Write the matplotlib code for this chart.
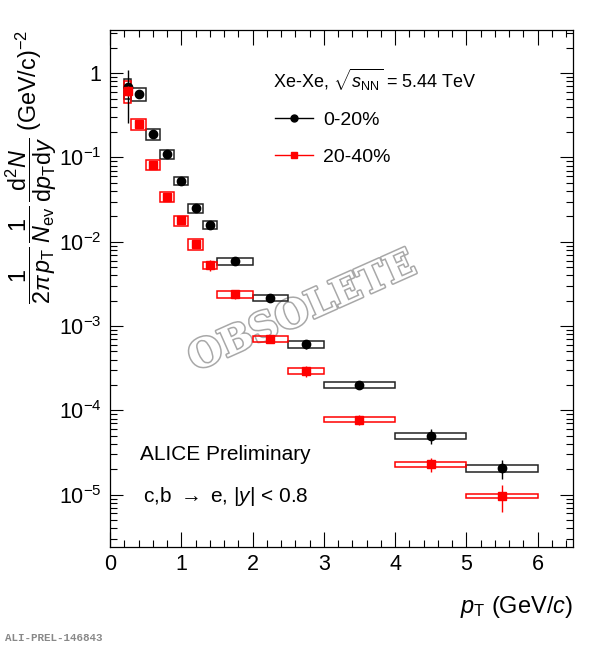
import numpy as np
import matplotlib
matplotlib.use("Agg")
import matplotlib.pyplot as plt
from matplotlib.lines import Line2D
from matplotlib import patheffects
from matplotlib.ticker import FixedLocator, FixedFormatter, LogLocator, MultipleLocator, NullFormatter

plt.rcParams['font.family'] = ['Liberation Sans', 'DejaVu Sans']
plt.rcParams['mathtext.fontset'] = 'custom'
plt.rcParams['mathtext.rm'] = 'Liberation Sans'
plt.rcParams['mathtext.it'] = 'Liberation Sans:italic'
plt.rcParams['mathtext.bf'] = 'Liberation Sans:bold'

# pT bins (GeV/c)
pt_lo = [0.2, 0.3, 0.5, 0.7, 0.9, 1.1, 1.3, 1.5, 2.0, 2.5, 3.0, 4.0, 5.0]
pt_hi = [0.3, 0.5, 0.7, 0.9, 1.1, 1.3, 1.5, 2.0, 2.5, 3.0, 4.0, 5.0, 6.0]
pt = [0.25, 0.4, 0.6, 0.8, 1.0, 1.2, 1.4, 1.75, 2.25, 2.75, 3.5, 4.5, 5.5]

# 0-20%
c0_val = [0.68, 0.57, 0.19, 0.11, 0.053, 0.025, 0.0158, 0.0059, 0.00216, 6.1e-4, 2.0e-4, 5.0e-5, 2.05e-5]
c0_stat = [0.42, 0.05, 0.015, 0.007, 0.003, 0.0015, 0.0008, 0.0004, 1.5e-4, 8e-5, 2.2e-5, 1.0e-5, 5.2e-6]
c0_sys = [0.18, 0.1, 0.03, 0.013, 0.006, 0.0028, 0.0018, 0.0006, 2.0e-4, 5.8e-5, 1.5e-5, 4.4e-6, 1.9e-6]

# 20-40%
c1_val = [0.62, 0.25, 0.082, 0.034, 0.018, 0.0094, 0.0053, 0.0024, 7.1e-4, 2.95e-4, 7.8e-5, 2.3e-5, 9.7e-6]
c1_stat = [0.08, 0.02, 0.006, 0.0025, 0.0012, 0.0008, 0.0008, 0.0003, 8e-5, 4.5e-5, 1.0e-5, 4.2e-6, 3.5e-6]
c1_sys = [0.18, 0.04, 0.011, 0.0047, 0.0025, 0.0013, 0.0005, 0.00022, 6e-5, 2.3e-5, 5.8e-6, 1.7e-6, 6e-7]

ytick_vals = [1e-5, 1e-4, 1e-3, 1e-2, 1e-1, 1]
ytick_labels = ['$10^{-5}$', '$10^{-4}$', '$10^{-3}$', '$10^{-2}$', '$10^{-1}$', '1']

fig = plt.figure(figsize=(5.93, 6.5), dpi=100)
ax = fig.add_axes([0.1855, 0.1585, 0.781, 0.7953])

width = np.array(pt_hi) - np.array(pt_lo)
for val, sys, col in [(c0_val, c0_sys, '#222222'), (c1_val, c1_sys, 'red')]:
    val = np.array(val)
    sys = np.array(sys)
    ax.bar(pt_lo, 2 * sys, width=width, bottom=val - sys, align='edge',
           fill=False, edgecolor=col, linewidth=1.1, zorder=2)

ax.errorbar(pt, c0_val, yerr=c0_stat, fmt='o', color='black', ms=6,
            elinewidth=1.0, capsize=0, zorder=3)
ax.errorbar(pt, c1_val, yerr=c1_stat, fmt='s', color='red', ms=5.5,
            elinewidth=1.0, capsize=0, zorder=4)

ax.set_yscale('log')
ax.set_xlim(0, 6.5)
ax.set_ylim(2.4e-6, 3.25)

ax.yaxis.set_major_locator(FixedLocator(ytick_vals))
ax.yaxis.set_major_formatter(FixedFormatter(ytick_labels))
ax.yaxis.set_minor_locator(LogLocator(base=10, subs=np.arange(2, 10), numticks=20))
ax.yaxis.set_minor_formatter(NullFormatter())
ax.xaxis.set_major_locator(MultipleLocator(1))
ax.xaxis.set_minor_locator(MultipleLocator(0.2))

ax.tick_params(which='both', direction='in', top=True, right=True, width=0.8)
ax.tick_params(axis='x', which='major', length=10.5, labelsize=15.5, pad=5)
ax.tick_params(axis='x', which='minor', length=5)
ax.tick_params(axis='y', which='major', length=9.5, labelsize=15.5, pad=6)
ax.tick_params(axis='y', which='minor', length=5)
for s in ax.spines.values():
    s.set_linewidth(0.9)

ax.set_xlabel(r'$p_{\rm T}$ (GeV/$c$)', fontsize=17, loc='right')
ax.xaxis.set_label_coords(1.0, -0.09)
ax.set_ylabel(r'$\dfrac{1}{2\pi\, p_{\rm T}}\,\dfrac{1}{N_{\rm ev}}\,'
              r'\dfrac{{\rm d}^{2}N}{{\rm d}p_{\rm T}{\rm d}y}$ (GeV/c)$^{-2}$',
              fontsize=16.8, loc='top')
ax.yaxis.set_label_coords(-0.11, 1.0)

ax.text(0.352, 0.903, r'Xe-Xe, $\sqrt{s_{\rm NN}}$ = 5.44 TeV',
        transform=ax.transAxes, fontsize=13, va='center')
handles = [Line2D([], [], color='black', marker='o', ms=5, lw=1),
           Line2D([], [], color='red', marker='s', ms=5, lw=1)]
ax.legend(handles, ['0-20%', '20-40%'], loc='upper left',
          bbox_to_anchor=(0.319, 0.876), frameon=False, fontsize=14,
          handlelength=1.95, labelspacing=0.98, handletextpad=0.5)

ax.text(0.065, 0.178, 'ALICE Preliminary', transform=ax.transAxes,
        fontsize=15, va='center')
ax.text(0.071, 0.097, r'c,b $\rightarrow$ e, $|y|$ < 0.8', transform=ax.transAxes,
        fontsize=15, va='center')

ax.text(0.415, 0.455, 'OBSOLETE', transform=ax.transAxes, rotation=24,
        rotation_mode='anchor', ha='center', va='center', fontsize=28,
        family='DejaVu Serif', weight='bold', color='white', zorder=1,
        path_effects=[patheffects.withStroke(linewidth=2.2, foreground='#a8a8a8')])

fig.text(0.008, 0.018, 'ALI-PREL-146843', fontsize=7.8, family='Liberation Mono',
         weight='bold', color='#888888', va='center')

fig.savefig('out.png', dpi=100)
